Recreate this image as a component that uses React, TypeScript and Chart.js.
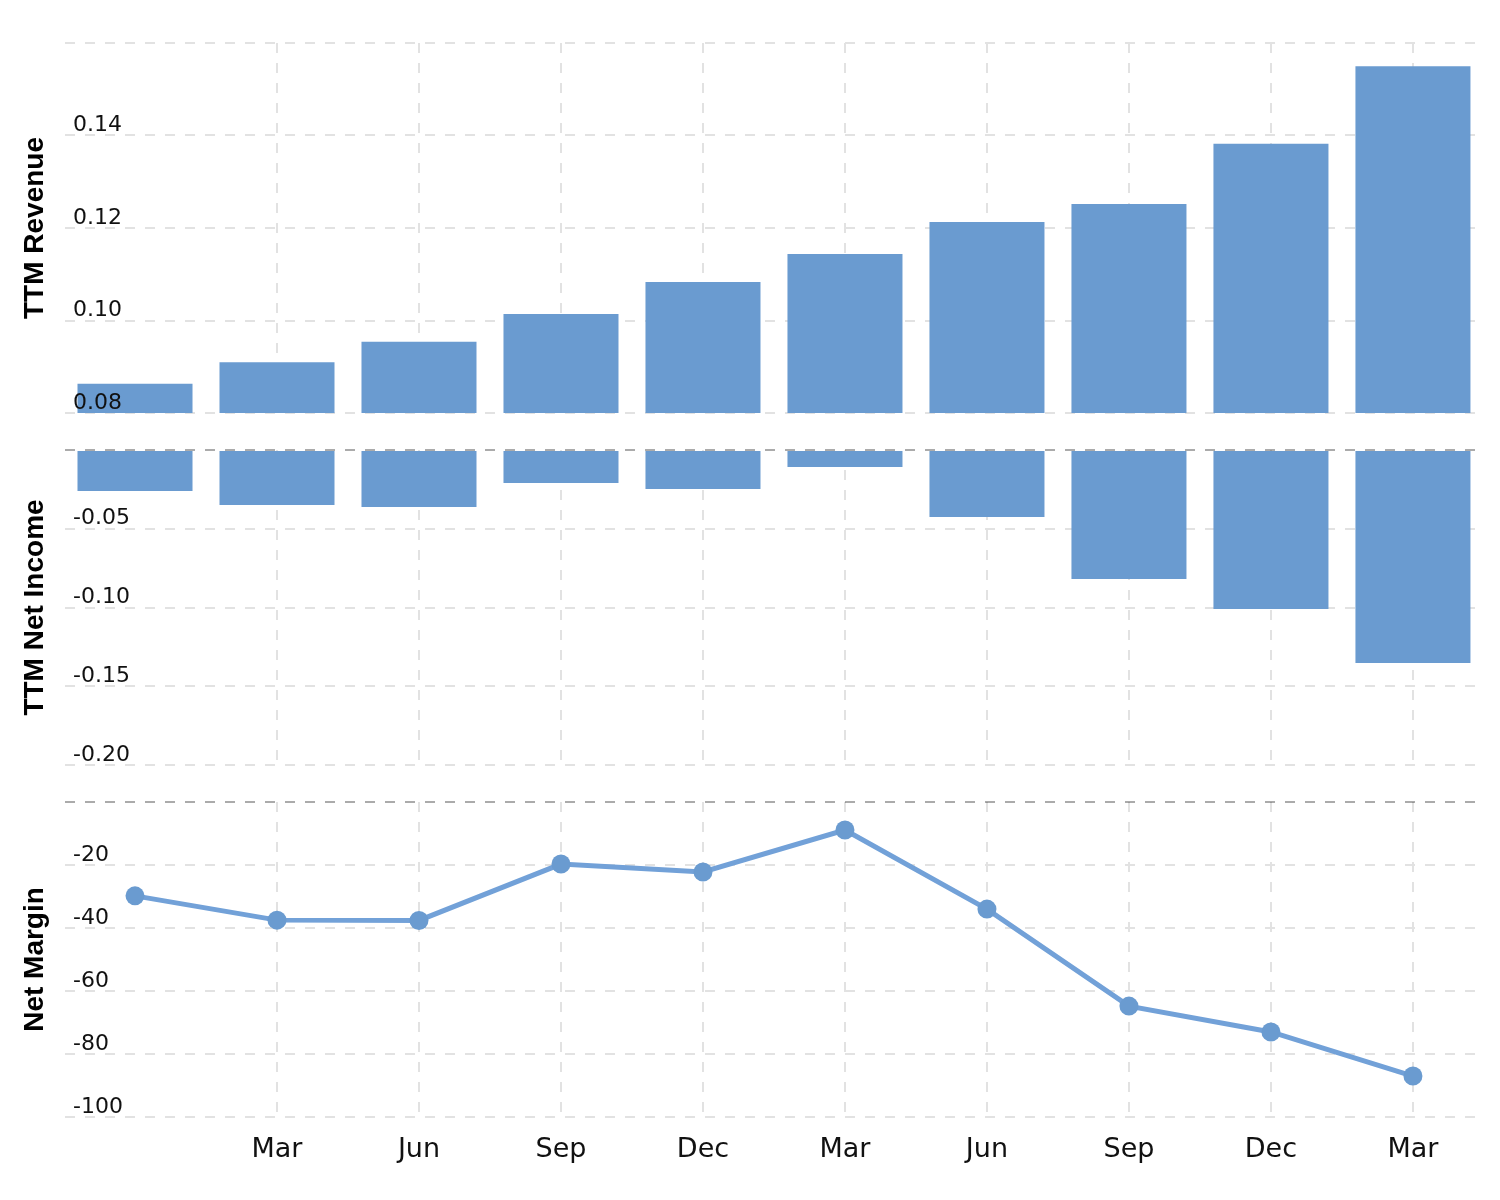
import React, { useEffect, useRef } from 'react';
import { Chart, registerables } from 'chart.js';

Chart.register(...registerables);

// ---------- data ----------
const periods = ['Dec', 'Mar', 'Jun', 'Sep', 'Dec', 'Mar', 'Jun', 'Sep', 'Dec', 'Mar'];
const labelledPeriodIndex = [1, 2, 3, 4, 5, 6, 7, 8, 9];

const ttmRevenue = [0.0863, 0.091, 0.0954, 0.1014, 0.1083, 0.1144, 0.1213, 0.1252, 0.1382, 0.155];
const ttmNetIncome = [-0.026, -0.0349, -0.0362, -0.021, -0.0248, -0.0108, -0.0425, -0.0819, -0.101, -0.1352];
const netMargin = [-29.8, -37.5, -37.6, -19.7, -22.2, -8.9, -34.0, -64.8, -73.0, -87.0];

const revenueTicks = [0.16, 0.14, 0.12, 0.1, 0.08];
const netIncomeTicks = [0, -0.05, -0.1, -0.15, -0.2];
const marginTicks = [0, -20, -40, -60, -80, -100];

// ---------- styles ----------
const BAR_COLOR = '#6a9bd0';
const LINE_COLOR = '#72a1d8';
const POINT_COLOR = '#6a9bd0';
const GRID_COLOR = '#e2e2e2';
const ZERO_COLOR = 'rgba(0,0,0,0.33)';
const DASH = [10, 10];
const X_MIN = -0.493;
const X_MAX = 9.437;

const zeroLinePlugin = {
  id: 'zeroLine',
  afterDatasetsDraw(chart: any) {
    const y = chart.scales.y.getPixelForValue(0);
    const { left, right } = chart.chartArea;
    const ctx = chart.ctx;
    ctx.save();
    ctx.strokeStyle = ZERO_COLOR;
    ctx.lineWidth = 2;
    ctx.setLineDash(DASH);
    ctx.beginPath();
    ctx.moveTo(left, Math.round(y));
    ctx.lineTo(right, Math.round(y));
    ctx.stroke();
    ctx.restore();
  },
};

function xScale(showLabels: boolean) {
  return {
    type: 'linear',
    min: X_MIN,
    max: X_MAX,
    offset: false,
    afterBuildTicks: (s: any) => {
      s.ticks = labelledPeriodIndex.map((v) => ({ value: v }));
    },
    grid: { display: true, offset: false, color: GRID_COLOR, lineWidth: 2, drawTicks: false },
    border: { display: false, dash: DASH },
    ticks: {
      display: showLabels,
      autoSkip: false,
      maxRotation: 0,
      padding: 17,
      color: '#111',
      font: { family: 'DejaVu Sans', size: 27 },
      callback: (v: any) => periods[v] ?? '',
    },
  };
}

function yScale(
  min: number,
  max: number,
  tickValues: number[],
  title: string,
  fmt: (v: number) => string,
  hasZero: boolean
) {
  return {
    type: 'linear',
    position: 'left',
    min,
    max,
    afterBuildTicks: (s: any) => {
      s.ticks = tickValues.map((v) => ({ value: v }));
    },
    grid: {
      lineWidth: 2,
      drawTicks: false,
      color: (ctx: any) => (hasZero && ctx.tick && ctx.tick.value === 0 ? 'rgba(0,0,0,0)' : GRID_COLOR),
    },
    border: { display: false, dash: DASH },
    ticks: {
      mirror: true,
      padding: 8,
      labelOffset: -10,
      z: 1,
      color: '#111',
      font: { family: 'DejaVu Sans', size: 22 },
      callback: (v: any) => (v === tickValues[0] ? '' : fmt(v)),
    },
    title: {
      display: true,
      text: title,
      color: '#000',
      font: { family: 'Liberation Sans', size: 28, weight: 'bold', lineHeight: 1 },
      padding: { top: 13, bottom: 0 },
    },
  };
}

const commonPlugins = {
  legend: { display: false },
  tooltip: { enabled: false },
};

function revenueConfig(): any {
  return {
    type: 'bar',
    data: {
      datasets: [
        {
          data: ttmRevenue.map((v, i) => ({ x: i, y: v })),
          backgroundColor: BAR_COLOR,
          borderWidth: 0,
          barPercentage: 0.81,
          categoryPercentage: 1,
        },
      ],
    },
    options: {
      responsive: false,
      animation: false,
      layout: { padding: { top: 35, bottom: 27, left: 0, right: 17 } },
      plugins: commonPlugins,
      scales: {
        x: xScale(false),
        y: yScale(0.08, 0.16, revenueTicks, 'TTM Revenue', (v) => v.toFixed(2), false),
      },
    },
  };
}

function netIncomeConfig(): any {
  return {
    type: 'bar',
    data: {
      datasets: [
        {
          data: ttmNetIncome.map((v, i) => ({ x: i, y: v })),
          backgroundColor: BAR_COLOR,
          borderWidth: 0,
          barPercentage: 0.81,
          categoryPercentage: 1,
        },
      ],
    },
    options: {
      responsive: false,
      animation: false,
      layout: { padding: { top: 30, bottom: 25, left: 0, right: 17 } },
      plugins: commonPlugins,
      scales: {
        x: xScale(false),
        y: yScale(-0.2, 0, netIncomeTicks, 'TTM Net Income', (v) => v.toFixed(2), true),
      },
    },
    plugins: [zeroLinePlugin],
  };
}

function marginConfig(): any {
  return {
    type: 'line',
    data: {
      datasets: [
        {
          data: netMargin.map((v, i) => ({ x: i, y: v })),
          borderColor: LINE_COLOR,
          borderWidth: 5,
          tension: 0,
          pointRadius: 9.5,
          pointBackgroundColor: POINT_COLOR,
          pointBorderColor: POINT_COLOR,
          pointBorderWidth: 0,
          clip: false,
        },
      ],
    },
    options: {
      responsive: false,
      animation: false,
      layout: { padding: { top: 27, bottom: 4.6, left: 0, right: 17 } },
      plugins: commonPlugins,
      scales: {
        x: xScale(true),
        y: yScale(-100, 0, marginTicks, 'Net Margin', (v) => String(v), true),
      },
    },
    plugins: [zeroLinePlugin],
  };
}

function ChartCanvas({ build, top, height }: { build: () => any; top: number; height: number }) {
  const ref = useRef<HTMLCanvasElement | null>(null);
  useEffect(() => {
    if (!ref.current) return;
    const chart = new Chart(ref.current, build());
    return () => chart.destroy();
  }, []);
  return (
    <canvas
      ref={ref}
      width={1484}
      height={height}
      style={{ position: 'absolute', left: 0, top, width: 1484, height }}
    />
  );
}

export default function App() {
  return (
    <div style={{ position: 'relative', width: 1484, height: 1180 }}>
      <ChartCanvas build={revenueConfig} top={0} height={432} />
      <ChartCanvas build={netIncomeConfig} top={412} height={370} />
      <ChartCanvas build={marginConfig} top={767} height={413} />
    </div>
  );
}
